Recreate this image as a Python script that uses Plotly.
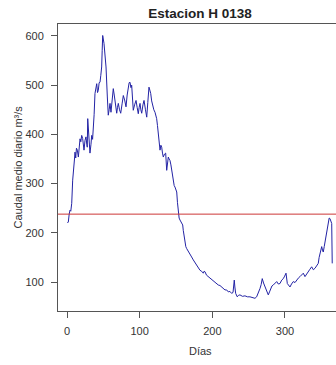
import plotly.graph_objects as go

# Days and daily mean discharge (m3/s)
dias = [0.5, 1.8, 3, 4.1, 5.2, 6.5, 7.8, 8.7, 9.6, 10.3, 11, 12, 13, 14.2, 15.6, 16.8,
        17.9, 19, 20.2, 21.5, 22.5, 23.4, 24.8, 26.1, 27.2, 27.9, 28.5, 29.3, 30.5,
        31.6, 33, 34, 35.2, 36.2, 37.3, 38.5, 39.7, 40.9, 42, 43, 44.2, 45.4, 46.5,
        47.7, 48.4, 49.1, 50.9, 52.3, 53.7, 55.5, 56.8, 58, 59.2, 60.5, 62, 63.7,
        65, 66, 67.3, 68.4, 69.5, 70.6, 72.3, 73.9, 75.8, 77.5, 79.3, 81.2, 82.8,
        84.4, 85.5, 86.7, 88, 89, 90.2, 91.2, 93, 95, 96.5, 98.1, 99.3, 100.5,
        101.6, 102.8, 104.5, 106, 108, 109.7, 111.2, 112.8, 114, 115.2, 116.5,
        117.9, 119.5, 121.1, 122.3, 123.4, 124.5, 125.6, 126.8, 128, 129.2, 130.3,
        131.4, 132.5, 134.2, 135.8, 137.2, 138.3, 139.4, 140.5, 141.7, 143, 144.1,
        145.2, 146.3, 147.5, 148.6, 149.8, 151, 152, 153.2, 154.3, 155.5, 157.4,
        159.2, 160, 161, 162.4, 163.5, 164.7, 167, 169.3, 171.5, 173.8, 176, 178.5,
        180.5, 183, 185.2, 187.6, 188.7, 189.9, 192, 194.4, 196.8, 199.1, 201.5,
        203.7, 206, 208.2, 210.5, 212.9, 215, 217.4, 219.7, 222, 224.2, 226.6,
        228.5, 229.5, 230.2, 231, 232.1, 234.3, 236, 238, 241.5, 244.9, 248.3,
        251.8, 255.2, 258.7, 261, 263.2, 265.6, 267.2, 268.7, 270.5, 272.5, 274.8,
        277, 278.7, 280.3, 282, 283.9, 286.2, 288.6, 290.8, 293.1, 295.5, 297.7,
        299.5, 301.4, 303.2, 305, 306.9, 309, 311.4, 313.8, 316.1, 318.3, 320.6,
        322.8, 325.2, 327.5, 329.8, 332, 334.3, 336.7, 339, 341.3, 343.5, 345.8,
        347, 348.1, 349.3, 350.5, 351.6, 352.7, 354, 355, 356.3, 357.4, 358.5,
        359.6, 360.8, 361.9, 363.2, 364.3, 365]
caudal = [220, 222, 238, 246, 244, 260, 307, 318, 334, 350, 364, 352, 372, 368, 354, 372,
          391, 385, 398, 392, 375, 368, 388, 395, 380, 374, 432, 408, 390,
          362, 380, 398, 390, 408, 440, 483, 495, 503, 485, 489, 505, 506, 520,
          537, 570, 601, 585, 560, 537, 476, 439, 450, 463, 445, 470, 493,
          480, 469, 455, 443, 455, 463, 450, 443, 462, 479, 470, 456, 480,
          496, 505, 506, 495, 500, 470, 449, 460, 469, 455, 442, 455, 463,
          450, 443, 460, 469, 450, 435, 465, 496, 490, 483, 468,
          456, 450, 445, 438, 432, 418, 402, 380, 368, 378, 374,
          362, 354, 360, 362, 327, 340, 354, 350, 347, 338, 327,
          312, 300, 296, 293, 288, 283, 262, 239, 230, 226, 220,
          216, 205, 192, 178, 172, 168, 163, 158, 151, 145, 140, 134,
          128, 124, 122, 118, 122, 121, 114, 111, 110, 107, 104,
          101, 98, 94, 93, 90, 88, 84, 84, 80, 81, 77,
          79, 90, 104, 90, 77, 70, 73, 74, 71, 72, 70,
          70, 68, 67, 70, 77, 87, 95, 107, 98, 90, 80,
          74, 80, 87, 92, 94, 98, 101, 96, 97, 104, 107,
          112, 118, 97, 93, 90, 96, 101, 99, 104, 108, 111,
          114, 118, 111, 117, 121, 126, 131, 125, 128, 134, 138,
          150, 158, 166, 172, 165, 161, 172, 182, 192, 205, 215,
          226, 230, 229, 222, 219, 138]
media = 238

x_ticks = [0, 100, 200, 300]
y_ticks = [100, 200, 300, 400, 500, 600]

W, H = 336, 365
L, T, B = 58, 24, 54

fig = go.Figure()
fig.add_trace(go.Scatter(x=dias, y=caudal, mode="lines",
                         line=dict(color="rgb(35,35,165)", width=1),
                         showlegend=False, hoverinfo="skip"))
fig.add_hline(y=media, line=dict(color="rgb(205,55,55)", width=1))

font = "Liberation Sans, Arial, sans-serif"
fig.update_layout(
    width=W, height=H,
    margin=dict(l=L, r=0, t=T, b=B, pad=0),
    paper_bgcolor="white", plot_bgcolor="white",
    font=dict(family=font, size=11, color="#333"),
    title=dict(text="<b>Estacion H 0138</b>", x=(200 - L) / (W - L), xanchor="center",
               xref="paper", y=1 - 13.5 / H, yref="container", yanchor="middle",
               font=dict(size=13.5, color="#222", family=font)),
    xaxis=dict(range=[-12.4, 370.2], tickvals=x_ticks, ticks="outside", ticklen=6,
               tickcolor="#555", showline=True, linecolor="#555", linewidth=1,
               mirror=True, showgrid=False, zeroline=False,
               ticklabelstandoff=4, tickfont=dict(size=11, color="#333")),
    yaxis=dict(range=[41.2, 624.3], tickvals=y_ticks, ticks="outside", ticklen=6,
               tickcolor="#555", showline=True, linecolor="#555", linewidth=1,
               mirror=False, showgrid=False, zeroline=False,
               ticklabelstandoff=5, tickfont=dict(size=11, color="#333")),
    annotations=[
        dict(text="Días", xref="paper", yref="paper", x=(200 - L) / (W - L),
             y=-(350.7 - (H - B)) / (H - T - B), xanchor="center", yanchor="middle",
             showarrow=False, font=dict(size=11, color="#333")),
        dict(text="Caudal medio diario m³/s", xref="paper", yref="paper",
             x=-(L - 17) / (W - L), y=0.5, xanchor="center", yanchor="middle",
             textangle=-90, showarrow=False, font=dict(size=11, color="#333")),
    ],
)

fig.write_html("out.html")
